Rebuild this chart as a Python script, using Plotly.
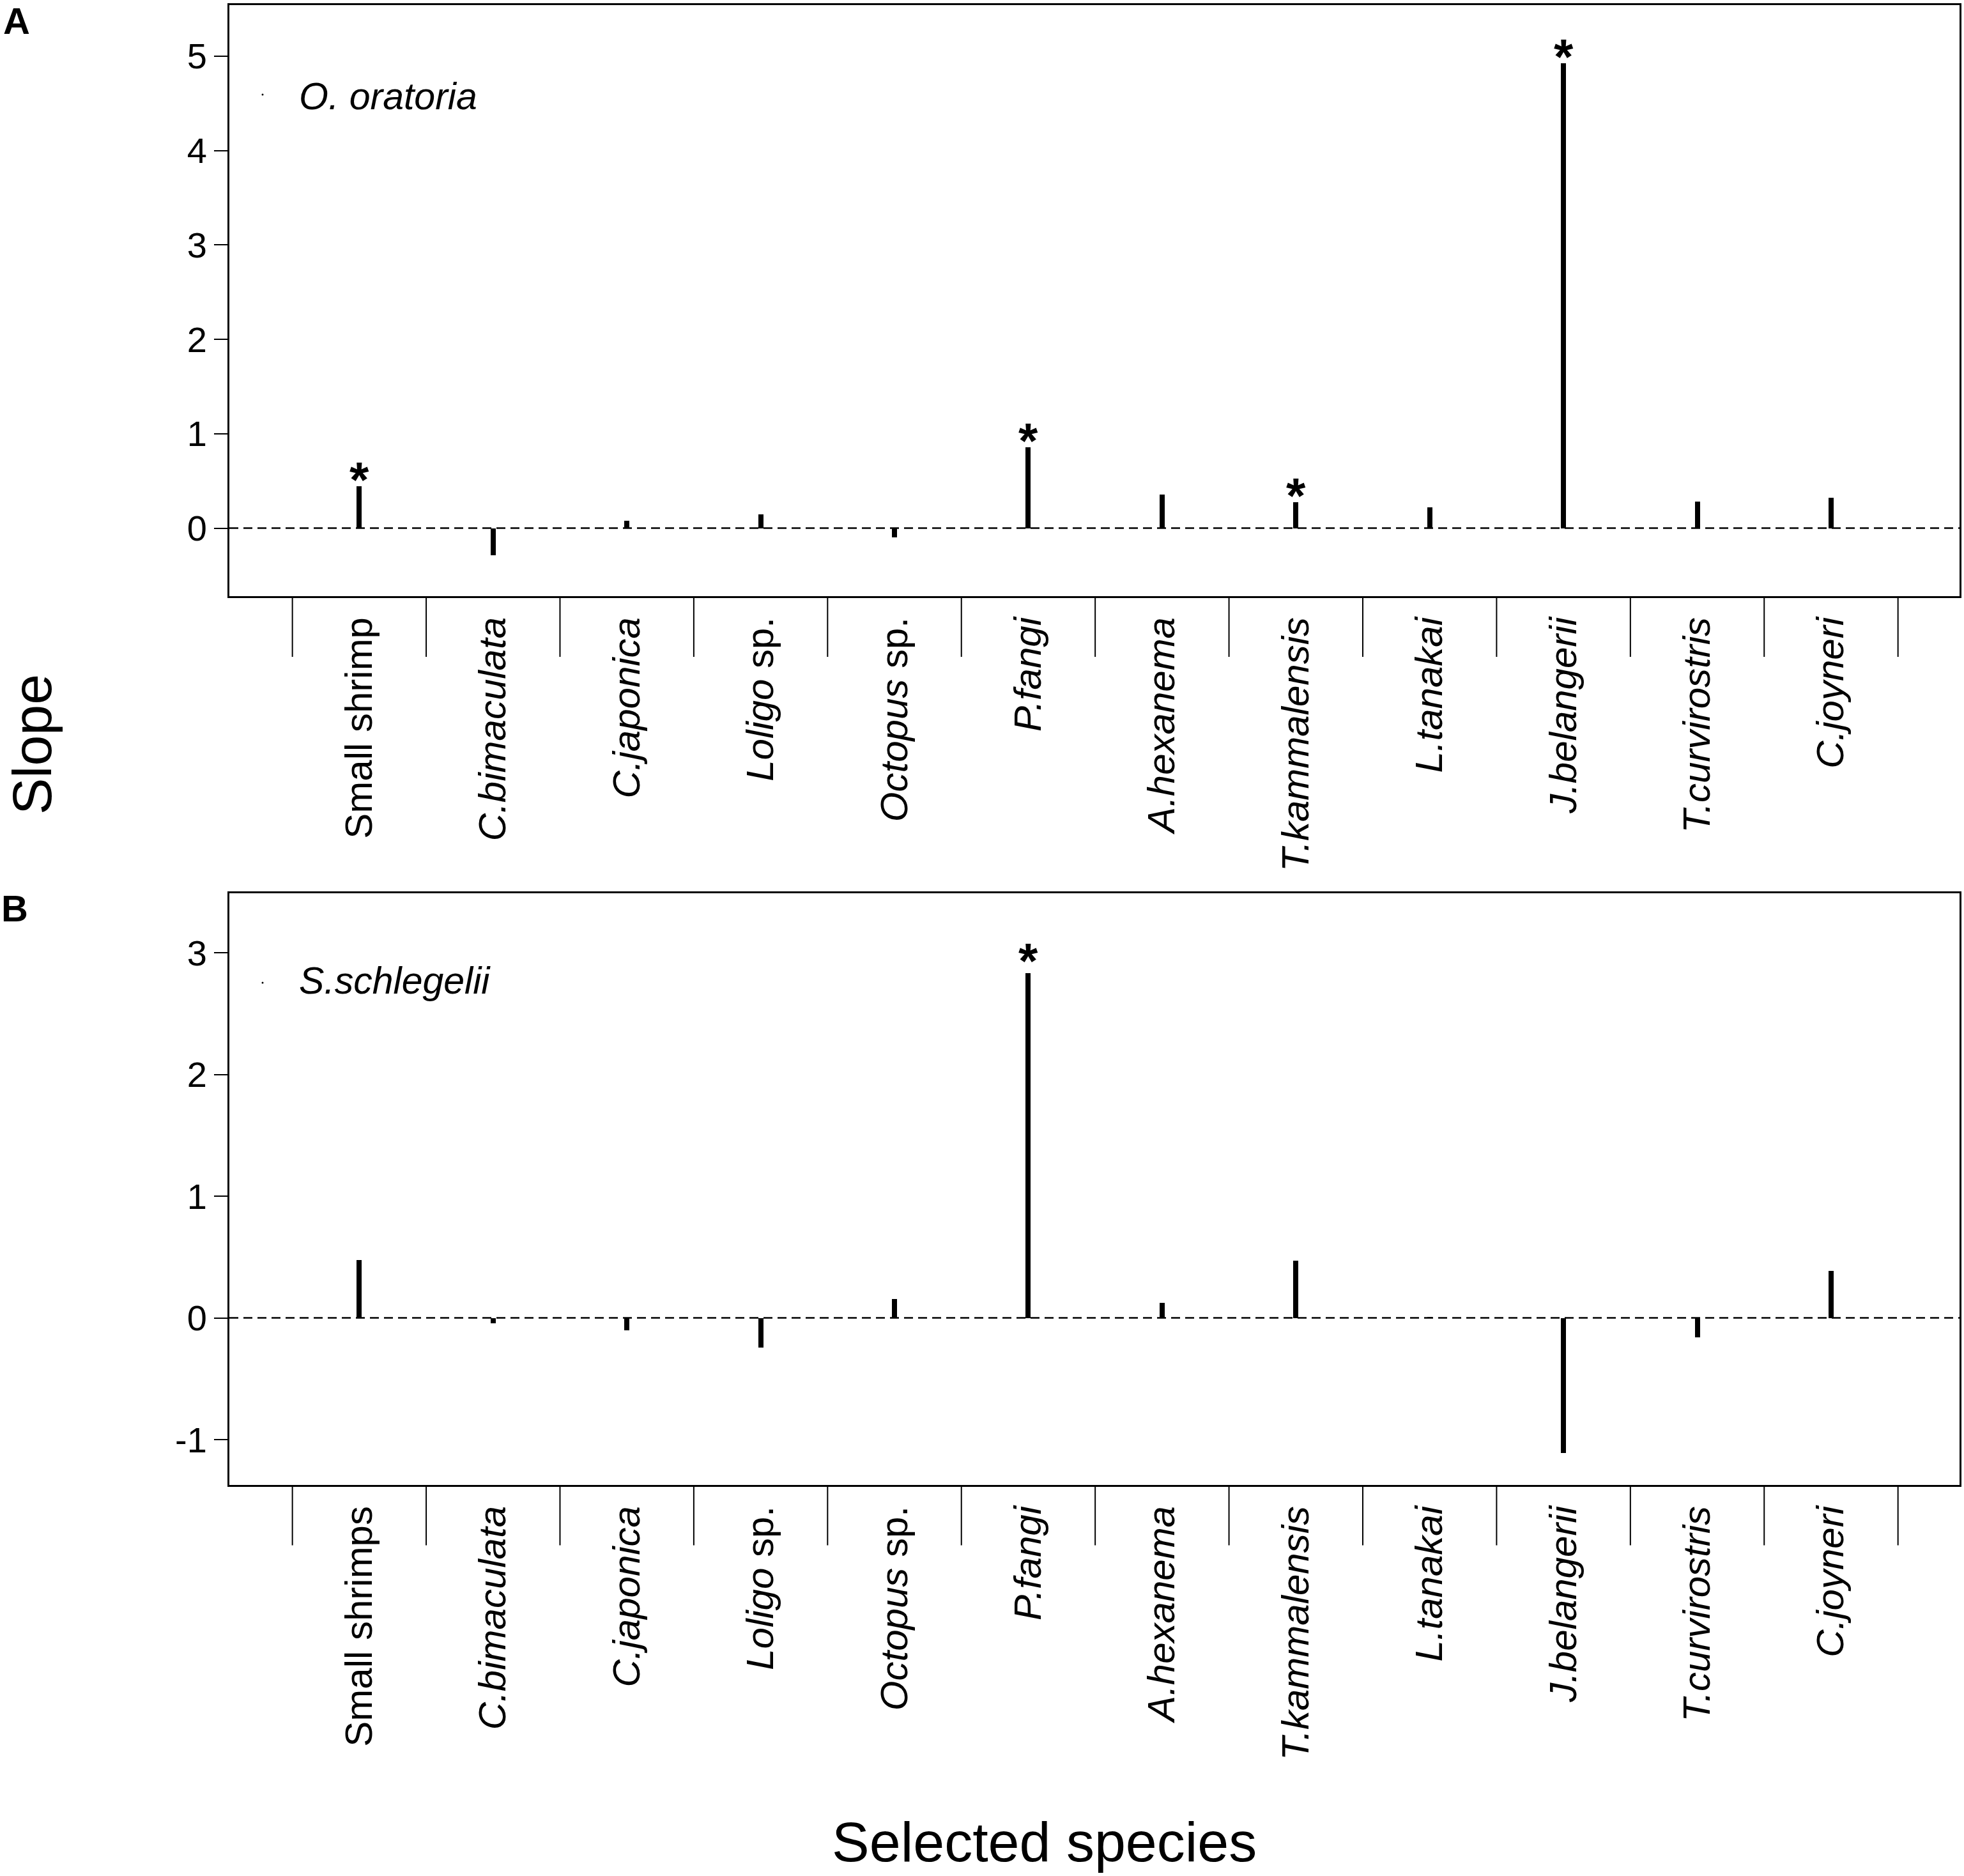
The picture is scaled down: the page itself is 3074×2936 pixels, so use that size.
import plotly.graph_objects as go

# ---------------- data ----------------
labels_a = ["Small shrimp", "<i>C.bimaculata</i>", "<i>C.japonica</i>", "<i>Loligo</i> sp.",
            "<i>Octopus</i> sp.", "<i>P.fangi</i>", "<i>A.hexanema</i>", "<i>T.kammalensis</i>",
            "<i>L.tanakai</i>", "<i>J.belangerii</i>", "<i>T.curvirostris</i>", "<i>C.joyneri</i>"]
labels_b = ["Small shrimps"] + labels_a[1:]

slope_a = [0.444, -0.285, 0.078, 0.147, -0.095, 0.854, 0.354, 0.276, 0.224, 4.925, 0.280, 0.319]
slope_b = [0.475, -0.044, -0.104, -0.244, 0.157, 2.836, 0.124, 0.469, 0.010, -1.108, -0.160, 0.385]

signif_a = [True, False, False, False, False, True, False, True, False, True, False, False]
signif_b = [False, False, False, False, False, True, False, False, False, False, False, False]

yticks_a = [0, 1, 2, 3, 4, 5]
yticks_b = [-1, 0, 1, 2, 3]

species_a = "O. oratoria"
species_b = "S.schlegelii"

# ---------------- layout constants ----------------
W, H = 3074, 2936
FONT = "Liberation Sans, Arial, sans-serif"


def px_x(p):
    return p / W


def px_y(p):
    return 1 - p / H


dom_x = [px_x(359), px_x(3067)]
dom_a = [px_y(933), px_y(8)]
dom_b = [px_y(2324), px_y(1398)]

idx = list(range(len(labels_a)))

fig = go.Figure()

fig.add_trace(go.Bar(x=idx, y=slope_a, width=0.038, marker=dict(color="black", line=dict(width=0)),
                     xaxis="x", yaxis="y", showlegend=False, hoverinfo="x+y"))
fig.add_trace(go.Bar(x=idx, y=slope_b, width=0.038, marker=dict(color="black", line=dict(width=0)),
                     xaxis="x2", yaxis="y2", showlegend=False, hoverinfo="x+y"))

axis_common = dict(showline=True, linewidth=3, linecolor="black", mirror=True,
                   showgrid=False, zeroline=False)

xcommon = dict(axis_common, range=[-0.971, 11.96], tickmode="array", tickvals=idx,
               tickangle=-90, ticks="", ticklabelstandoff=6,
               tickfont=dict(family=FONT, size=60, color="black"))
ycommon = dict(axis_common, ticks="outside", ticklen=21, tickwidth=2, tickcolor="black",
               tickfont=dict(family=FONT, size=56, color="black"), ticklabelstandoff=0)

fig.update_layout(
    width=W, height=H, autosize=False,
    margin=dict(l=0, r=0, t=0, b=0, pad=0),
    paper_bgcolor="white", plot_bgcolor="white",
    bargap=0,
    xaxis=dict(xcommon, domain=dom_x, anchor="y", ticktext=labels_a),
    yaxis=dict(ycommon, domain=dom_a, anchor="x", range=[-0.72, 5.54],
               tickmode="array", tickvals=yticks_a, ticktext=[str(v) for v in yticks_a]),
    xaxis2=dict(xcommon, domain=dom_x, anchor="y2", ticktext=labels_b),
    yaxis2=dict(ycommon, domain=dom_b, anchor="x2", range=[-1.373, 3.49],
                tickmode="array", tickvals=yticks_b, ticktext=[str(v) for v in yticks_b]),
)

shapes = []
annotations = []
for xa, ya, dh in [("x", "y", 0.1027), ("x2", "y2", 0.102)]:
    # dashed zero line
    shapes.append(dict(type="line", xref=f"{xa} domain", yref=ya, x0=0, x1=1, y0=0, y1=0,
                       line=dict(color="black", width=2.5, dash="14px,8px")))
    # category dividers below the axis
    for i in range(len(idx) + 1):
        shapes.append(dict(type="line", xref=xa, yref=f"{ya} domain", x0=i - 0.5, x1=i - 0.5,
                           y0=0, y1=-dh, line=dict(color="black", width=2)))

# significance stars
for vals, sig, xa, ya, ys in [(slope_a, signif_a, "x", "y", 10), (slope_b, signif_b, "x2", "y2", 19)]:
    for i, (v, s) in enumerate(zip(vals, sig)):
        if s:
            annotations.append(dict(x=i, y=v, xref=xa, yref=ya, text="<b>*</b>", showarrow=False,
                                    xanchor="center", yanchor="middle", yshift=ys,
                                    font=dict(family=FONT, size=78, color="black")))

# species legend text and dot
for name, ycen, ydot in [(species_a, 151, 148), (species_b, 1535, 1538)]:
    annotations.append(dict(x=px_x(466), y=px_y(ycen), xref="paper", yref="paper",
                            text=f"<i>{name}</i>", showarrow=False, xanchor="left", yanchor="middle",
                            font=dict(family=FONT, size=59, color="black")))
    shapes.append(dict(type="circle", xref="paper", yref="paper",
                       x0=px_x(409.5), x1=px_x(412.5), y0=px_y(ydot + 1.5), y1=px_y(ydot - 1.5),
                       fillcolor="black", line=dict(width=0)))

# panel letters
annotations.append(dict(x=px_x(26), y=px_y(32), xref="paper", yref="paper", text="<b>A</b>",
                        showarrow=False, xanchor="center", yanchor="middle",
                        font=dict(family=FONT, size=58, color="black")))
annotations.append(dict(x=px_x(23), y=px_y(1421), xref="paper", yref="paper", text="<b>B</b>",
                        showarrow=False, xanchor="center", yanchor="middle",
                        font=dict(family=FONT, size=58, color="black")))

# axis titles
annotations.append(dict(x=px_x(50), y=px_y(1165), xref="paper", yref="paper", text="Slope",
                        textangle=-90, showarrow=False, xanchor="center", yanchor="middle",
                        font=dict(family=FONT, size=86, color="black")))
annotations.append(dict(x=px_x(1634), y=px_y(2882), xref="paper", yref="paper", text="Selected species",
                        showarrow=False, xanchor="center", yanchor="middle",
                        font=dict(family=FONT, size=88, color="black")))

fig.update_layout(shapes=shapes, annotations=annotations)

fig.write_html("out.html", config={"displayModeBar": False},
               post_script="document.body.style.margin='0px';")
